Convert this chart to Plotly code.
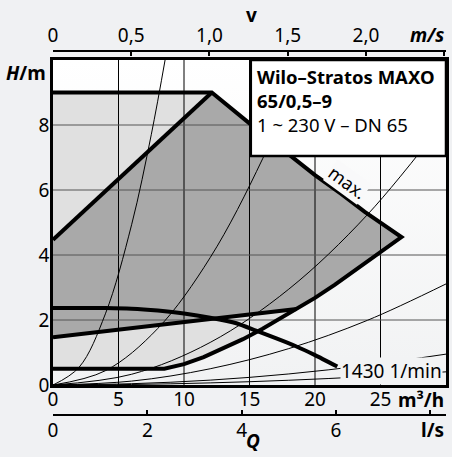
import math
import plotly.graph_objects as go

# ---------------- data ----------------
flow_ticks = [0, 5, 10, 15, 20, 25]          # m³/h
head_ticks = [0, 2, 4, 6, 8]                 # m
vel_ticks = [0, 0.5, 1.0, 1.5, 2.0, 2.5]     # m/s
vel_ticktext = ["0", "0,5", "1,0", "1,5", "2,0", ""]
ls_ticks = [0, 2, 4, 6, 8]                   # l/s
ls_ticktext = ["0", "2", "4", "6", ""]

FLOW_MAX = 30.0
HEAD_MAX = 10.0
PIPE_DN = 0.065  # DN 65 (m)

max_head = 9.0                 # flat top of the max curve (m)
min_head = 0.5                 # lowest head at small flow (m)

max_curve_q = [12.12, 15.0, 18.2, 20.0, 22.0, 23.8, 26.6]
max_curve_h = [9.0, 8.05, 7.02, 6.46, 5.88, 5.33, 4.55]

low_curve_q = [8.5, 10.0, 11.5, 13.0, 14.5, 16.0, 17.5, 18.6, 20.0, 21.5, 23.0, 24.5, 26.6]
low_curve_h = [0.5, 0.64, 0.86, 1.12, 1.41, 1.73, 2.08, 2.34, 2.68, 3.08, 3.5, 3.93, 4.55]

dpv_upper_q = [0.0, 12.12]
dpv_upper_h = [4.47, 9.0]
dpv_lower_q = [0.0, 18.6]
dpv_lower_h = [1.47, 2.34]

min_curve_q = [0, 4, 6, 8, 10, 12, 14, 15.5, 17, 18.5, 20, 21.7]
min_curve_h = [2.37, 2.37, 2.35, 2.29, 2.2, 2.07, 1.9, 1.67, 1.44, 1.2, 0.92, 0.57]

# system curves (thin parabolas)
sys_a_q = [0, 2, 4, 6, 7.5, 8.6]
sys_a_h = [0, 0.55, 2.19, 4.93, 7.7, 10.1]
sys_b_q = [0, 4, 8, 12, 16, 19.2]
sys_b_h = [0, 0.44, 1.74, 3.92, 6.96, 10.0]
sys_c_q = [0, 6, 12, 18, 24, 30]
sys_c_h = [0, 0.33, 1.31, 2.95, 5.24, 8.19]
sys_d_q = [0, 6, 12, 18, 24, 30]
sys_d_h = [0, 0.12, 0.5, 1.12, 1.99, 3.11]
sys_e_q = [0, 6, 12, 18, 24, 30]
sys_e_h = [0, 0.04, 0.15, 0.34, 0.61, 0.95]
sys_f_q = [0, 6, 12, 18, 24, 30]
sys_f_h = [0, 0.016, 0.065, 0.146, 0.26, 0.405]

title_lines = ["Wilo–Stratos MAXO", "65/0,5–9", "1 ~ 230 V – DN 65"]
speed_label = "1430 1/min"

# ---------------- derived ----------------
area = math.pi * PIPE_DN ** 2 / 4.0
VEL_MAX = FLOW_MAX / 3600.0 / area
LS_MAX = FLOW_MAX / 3.6

LIGHT = "#e0e0e0"
DARK = "#a9a9a9"
PAPER = "#f0f1f3"

# layout geometry (pixels)
W, H = 452, 457
ML, MR, MT, MB = 53, 3, 51, 42
PW = W - ML - MR
PH = H - MT - MB
PLOT_TOP, PLOT_BOTTOM = 60, 385


def px(x):
    return (x - ML) / PW


def py(y):
    return (H - MB - y) / PH


fig = go.Figure()

# background gradient of the plot area
fig.add_trace(go.Scatter(
    x=[0, FLOW_MAX, FLOW_MAX, 0], y=[0, 0, HEAD_MAX, HEAD_MAX],
    fill="toself", mode="none",
    fillgradient=dict(type="vertical", colorscale=[[0, "#f1f2f3"], [1, "#ffffff"]]),
    hoverinfo="skip"))

# light grey operating field
light_x = [0] + max_curve_q + low_curve_q[::-1] + [0]
light_y = [max_head] + max_curve_h + low_curve_h[::-1] + [min_head]
fig.add_trace(go.Scatter(x=light_x, y=light_y, fill="toself", fillcolor=LIGHT,
                         mode="none", hoverinfo="skip"))

# dark grey Δp-v field
low_part = [(q, h) for q, h in zip(low_curve_q, low_curve_h) if q >= dpv_lower_q[-1]][::-1]
dark_x = dpv_upper_q + max_curve_q[1:] + [p[0] for p in low_part] + dpv_lower_q[::-1]
dark_y = dpv_upper_h + max_curve_h[1:] + [p[1] for p in low_part] + dpv_lower_h[::-1]
fig.add_trace(go.Scatter(x=dark_x, y=dark_y, fill="toself", fillcolor=DARK,
                         mode="none", hoverinfo="skip"))

# grid lines (drawn above the fills)
gx, gy = [], []
for q in flow_ticks[1:]:
    gx += [q, q, None]
    gy += [0, HEAD_MAX, None]
fig.add_trace(go.Scatter(x=gx, y=gy, mode="lines", line=dict(color="black", width=1),
                         hoverinfo="skip"))
hx, hy = [], []
for h in head_ticks[1:]:
    hx += [0, FLOW_MAX, None]
    hy += [h, h, None]
fig.add_trace(go.Scatter(x=hx, y=hy, mode="lines", line=dict(color="#555555", width=1),
                         hoverinfo="skip"))

# thin system curves
for qs, hs in [(sys_a_q, sys_a_h), (sys_b_q, sys_b_h), (sys_c_q, sys_c_h),
               (sys_d_q, sys_d_h), (sys_e_q, sys_e_h), (sys_f_q, sys_f_h)]:
    fig.add_trace(go.Scatter(x=qs, y=hs, mode="lines",
                             line=dict(color="black", width=1, shape="spline"),
                             hoverinfo="skip"))

# thick curves
THICK = 4
outer_x = [0] + max_curve_q + low_curve_q[::-1] + [0]
outer_y = [max_head] + max_curve_h + low_curve_h[::-1] + [min_head]
fig.add_trace(go.Scatter(x=outer_x, y=outer_y, mode="lines",
                         line=dict(color="black", width=THICK), hoverinfo="skip"))
fig.add_trace(go.Scatter(x=dpv_upper_q, y=dpv_upper_h, mode="lines",
                         line=dict(color="black", width=THICK), hoverinfo="skip"))
fig.add_trace(go.Scatter(x=dpv_lower_q, y=dpv_lower_h, mode="lines",
                         line=dict(color="black", width=THICK), hoverinfo="skip"))
fig.add_trace(go.Scatter(x=min_curve_q, y=min_curve_h, mode="lines",
                         line=dict(color="black", width=THICK, shape="spline", smoothing=0.6),
                         hoverinfo="skip"))

# dummy traces so that the secondary axes exist
fig.add_trace(go.Scatter(x=[0], y=[0], xaxis="x2", mode="markers",
                         marker=dict(opacity=0), hoverinfo="skip"))
fig.add_trace(go.Scatter(x=[0], y=[0], xaxis="x3", mode="markers",
                         marker=dict(opacity=0), hoverinfo="skip"))

FONT = "Noto Sans"
TICKFONT = dict(family=FONT, size=19, color="black")

fig.update_layout(
    width=W, height=H,
    margin=dict(l=ML, r=MR, t=MT, b=MB, pad=0),
    paper_bgcolor=PAPER, plot_bgcolor="rgba(0,0,0,0)",
    showlegend=False,
    font=dict(family=FONT, size=19, color="black"),
    xaxis=dict(range=[0, FLOW_MAX], domain=[0, 1], anchor="y",
               tickvals=flow_ticks, ticks="", showgrid=False, zeroline=False,
               showline=True, mirror=True, linecolor="black", linewidth=2.5,
               tickfont=TICKFONT, ticklabelstandoff=-5),
    yaxis=dict(range=[0, HEAD_MAX], domain=[py(PLOT_BOTTOM), py(PLOT_TOP)],
               tickvals=head_ticks, ticks="", showgrid=False, zeroline=False,
               showline=True, mirror=True, linecolor="black", linewidth=2.5,
               tickfont=TICKFONT, ticklabelstandoff=-3),
    xaxis2=dict(range=[0, VEL_MAX], overlaying="x", anchor="free", position=1,
                side="top", tickvals=vel_ticks, ticktext=vel_ticktext,
                ticks="inside", ticklen=4, tickwidth=2, tickcolor="black",
                showline=True, linecolor="black", linewidth=2,
                showgrid=False, zeroline=False, tickfont=TICKFONT),
    xaxis3=dict(range=[0, LS_MAX], overlaying="x", anchor="free", position=0,
                side="bottom", tickvals=ls_ticks, ticktext=ls_ticktext,
                ticks="inside", ticklen=4, tickwidth=2, tickcolor="black",
                showline=True, linecolor="black", linewidth=2,
                showgrid=False, zeroline=False, tickfont=TICKFONT,
                ticklabelstandoff=-2),
)

# white type box
fig.add_shape(type="rect", xref="x", yref="y", x0=15.1, x1=FLOW_MAX, y0=7.05, y1=HEAD_MAX,
              fillcolor="white", line=dict(color="black", width=2.5), layer="above")

fig.add_annotation(
    xref="paper", yref="paper", x=px(257), y=py(62), xanchor="left", yanchor="top",
    align="left", showarrow=False,
    text="<b>%s</b><br><b>%s</b><br>%s" % tuple(title_lines),
    font=dict(family=FONT, size=18.5, color="black"))

# curve labels
fig.add_annotation(xref="x", yref="y", x=29.8, y=0.44, xanchor="right", yanchor="middle",
                   text=speed_label, showarrow=False, bgcolor="#f2f3f4", borderpad=0,
                   font=dict(family=FONT, size=19, color="black"))
fig.add_annotation(xref="x", yref="y", x=22.45, y=6.25, xanchor="center", yanchor="middle",
                   text="max.", textangle=36,
                   showarrow=False, bgcolor="#f9f9fa", borderpad=0,
                   font=dict(family=FONT, size=18, color="black"))


# axis titles
def title(text, x, y, xanchor="center", yanchor="middle"):
    fig.add_annotation(xref="paper", yref="paper", x=x, y=y, xanchor=xanchor,
                       yanchor=yanchor, text=text, showarrow=False,
                       font=dict(family=FONT, size=19, color="black"))


title("<b>v</b>", px(253), py(15))
title("<b><i>m/s</i></b>", 1.0, py(35), "right")
title("<b>m³/h</b>", 1.0, py(400), "right")
title("<b>l/s</b>", 1.0, py(430), "right")
title("<b><i>Q</i></b>", px(255), py(456), "center", "bottom")
title("<b><i>H</i>/m</b>", px(48), py(73), "right")

fig.write_html("out.html", config={"displayModeBar": False},
               post_script="document.body.style.margin='0px';")
